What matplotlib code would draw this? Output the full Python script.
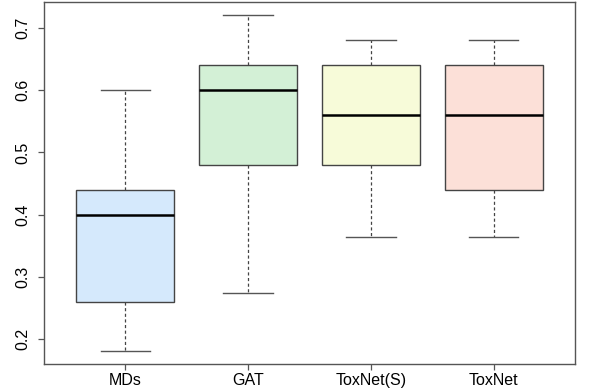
import matplotlib
matplotlib.use('Agg')
from matplotlib import pyplot as plt

# box summary values
methods = ['MDs', 'GAT', 'ToxNet(S)', 'ToxNet']
whislo = [0.182, 0.274, 0.364, 0.364]
q1 = [0.26, 0.48, 0.48, 0.44]
med = [0.40, 0.60, 0.56, 0.56]
q3 = [0.44, 0.64, 0.64, 0.64]
whishi = [0.60, 0.72, 0.68, 0.68]
colors = ['#d5e9fc', '#d3f0d6', '#f7fbd9', '#fce0d8']
yticks = [0.2, 0.3, 0.4, 0.5, 0.6, 0.7]

plt.rcParams['font.family'] = ['Liberation Sans', 'DejaVu Sans']

stats = []
for i in range(len(methods)):
    stats.append(dict(label=methods[i], whislo=whislo[i], q1=q1[i], med=med[i],
                      q3=q3[i], whishi=whishi[i], fliers=[]))

fig = plt.figure(figsize=(5.98, 3.88), dpi=100)
ax = fig.add_axes([44/598, 1-364/388, (575-44)/598, (364-2)/388])

bp = ax.bxp(stats, positions=[1, 2, 3, 4], widths=0.8, patch_artist=True,
            showfliers=False,
            boxprops=dict(edgecolor='#444444', linewidth=1.0),
            medianprops=dict(color='black', linewidth=1.8),
            whiskerprops=dict(color='#444444', linestyle=(0, (2.5, 2)), linewidth=0.9),
            capprops=dict(color='#555555', linewidth=1.0),
            capwidths=0.4)
for patch, c in zip(bp['boxes'], colors):
    patch.set_facecolor(c)

lo, hi = min(whislo), max(whishi)
pad = (hi - lo) * 0.04
ax.set_ylim(lo - pad, hi + pad)
ax.set_xlim(0.34, 4.66)
ax.set_yticks(yticks)
ax.set_yticklabels([str(t) for t in yticks], rotation=90, va='center')
ax.set_xticks([1, 2, 3, 4])
ax.set_xticklabels(methods)
ax.tick_params(axis='both', labelsize=11.5, length=4.5, color='#555555', width=0.9)
ax.tick_params(axis='y', pad=5)
ax.tick_params(axis='x', pad=2)
for s in ax.spines.values():
    s.set_color('#555555')
    s.set_linewidth(1.0)

plt.savefig('out.png', dpi=100)
